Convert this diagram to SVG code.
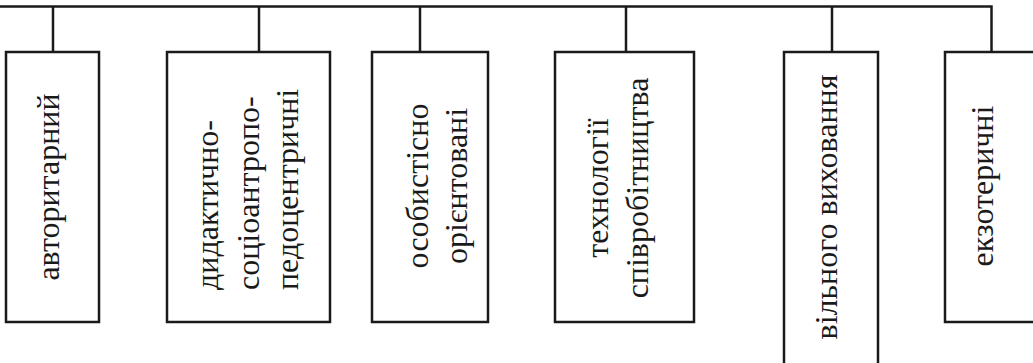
<svg xmlns="http://www.w3.org/2000/svg" width="1033" height="363" viewBox="0 0 1033 363">
<style>
.box{fill:#fff;stroke:#1a1a1a;stroke-width:2.5}
.con{fill:none;stroke:#1a1a1a;stroke-width:2.5}
text{font-family:"Liberation Serif","Times New Roman",serif;font-size:32px;fill:#1a1a1a}
.m{text-anchor:middle}
.s{text-anchor:start}
</style>
<rect width="1033" height="363" fill="#fff"/>
<g id="connectors">
<path class="con" d="M0 6.5H991.5V52"/>
<path class="con" d="M53 6.5V52"/>
<path class="con" d="M259 6.5V52"/>
<path class="con" d="M420 6.5V52"/>
<path class="con" d="M626 6.5V52"/>
<path class="con" d="M832 6.5V52"/>
</g>
<g id="n1">
<rect class="box" x="6" y="52" width="93" height="270"/>
<text class="m" transform="translate(59,187) rotate(-90)">авторитарний</text>
</g>
<g id="n2">
<rect class="box" x="167" y="52" width="163" height="270"/>
<text class="s" transform="translate(218,290) rotate(-90)">дидактично-</text>
<text class="s" transform="translate(259,290) rotate(-90)">соціоантропо-</text>
<text class="s" transform="translate(298,290) rotate(-90)">педоцентричні</text>
</g>
<g id="n3">
<rect class="box" x="372" y="52" width="116" height="270"/>
<text class="m" transform="translate(428,186) rotate(-90)">особистісно</text>
<text class="m" transform="translate(467,186) rotate(-90)">орієнтовані</text>
</g>
<g id="n4">
<rect class="box" x="555" y="52" width="139" height="270"/>
<text class="m" transform="translate(608,188) rotate(-90)">технології</text>
<text class="m" transform="translate(648,188) rotate(-90)">співробітництва</text>
</g>
<g id="n5">
<rect class="box" x="784" y="52" width="94" height="330"/>
<text class="m" transform="translate(837,207) rotate(-90)">вільного виховання</text>
</g>
<g id="n6">
<rect class="box" x="945" y="52" width="100" height="270"/>
<text class="m" transform="translate(993,186) rotate(-90)">екзотеричні</text>
</g>
</svg>
